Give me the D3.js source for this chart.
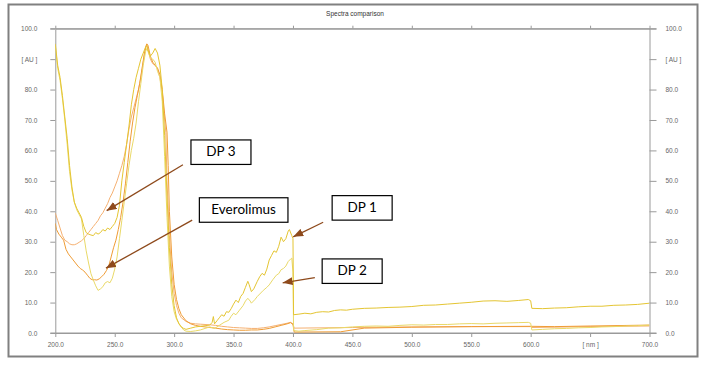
<!DOCTYPE html>
<html>
<head>
<meta charset="utf-8">
<script src="https://cdn.jsdelivr.net/npm/d3@7"></script>
<style>
  body { margin: 0; background: #fff; }
  .tick text { font-family: "Liberation Sans", Arial, sans-serif; font-size: 6.5px; fill: #666; }
  .tick line, .domain { stroke: #9a9a9a; }
</style>
</head>
<body>
<div id="chart"></div>
<script>
// spectra: [wavelength nm, absorbance AU]
var dp1 = [[200,95],[202,88],[204,84],[206,78],[208,71],[210,64],[212,55],[214,48],[216,43],[218,41],[220,39.5],[222,38],[224,35],[226,33],[228,32.5],[230,32.2],[232,32],[234,33],[236,32.5],[238,33],[240,34],[242,33.5],[244,34.5],[246,34],[248,35],[250,36],[252,38],[254,42],[256,50],[258,56],[260,62],[262,68],[264,75],[266,80],[268,84],[270,87],[272,90],[274,92],[276,94],[277,94.5],[278,93],[280,91],[282,92],[284,93.5],[286,92],[288,88],[290,80],[292,65],[294,45],[296,28],[298,16],[300,9],[302,5],[304,3],[306,2],[308,1.5],[310,1.2],[314,1.6],[318,2],[322,2.2],[326,2.4],[330,2.6],[332,3.5],[333,5.4],[334,3],[336,4],[338,5],[340,6],[342,5.5],[344,7],[346,6.8],[348,8],[350,9.5],[352,10.8],[354,10],[356,12],[358,13],[360,15],[362,17],[363,16],[365,13.6],[367,14.5],[370,17],[372,18.5],[374,19.6],[376,19],[378,21],[380,24],[382,25.5],[384,27],[386,26.5],[388,28.5],[390,31.5],[392,30],[394,31],[396,33.5],[397,34],[399,32],[400,31],[400.5,6],[405,6.2],[410,6.5],[415,6.3],[420,6.8],[425,7],[430,6.9],[435,7.4],[440,7.6],[445,7.5],[450,7.8],[460,8.1],[470,8.2],[480,8.4],[490,8.5],[500,8.7],[510,9.1],[520,9.2],[530,9.5],[540,9.8],[550,10.1],[560,10.5],[570,10.6],[580,10.4],[590,10.7],[598,11],[600,10.6],[601,8.1],[610,8],[620,8.2],[630,8.3],[640,8.6],[650,8.8],[660,8.8],[670,9.1],[680,9.2],[690,9.4],[700,9.8]];

var dp2 = [[200,94.5],[202,87],[204,83],[206,77],[208,70],[210,62],[212,53],[214,47],[216,43],[218,40.5],[220,39],[222,37.5],[224,32],[226,27],[228,23],[230,19.5],[232,17.4],[234,15.5],[236,14],[238,14.5],[240,15.2],[242,16.5],[244,16.9],[246,16.5],[248,18],[250,21],[252,25],[254,31],[256,37],[258,43],[260,49],[262,55],[264,60],[266,64],[268,69],[270,76],[272,82],[274,88],[276,92.5],[277,93.5],[278,92.5],[280,90.5],[282,90],[284,89],[286,86],[288,84],[290,76],[292,58],[294,38],[296,22],[298,12],[300,7],[302,4.5],[304,3.2],[306,2],[308,1],[310,0.6],[314,0.5],[318,0.7],[322,1],[326,1.5],[330,2],[334,1.5],[338,2.5],[342,3.5],[346,4.2],[348,5.5],[350,6.5],[352,6],[355,7.5],[358,9],[360,10.5],[362,11.4],[364,10.5],[365,9.8],[368,11],[370,12],[372,12.8],[375,14],[378,15],[380,15.8],[383,17.5],[386,19],[388,19.5],[390,20.8],[392,21.2],[394,22],[396,23.5],[398,24.3],[399,24.6],[400,20],[400.5,0.8],[405,0.6],[410,0.8],[420,1.1],[430,1.6],[440,1.7],[450,2],[460,2.2],[470,2.3],[480,2.2],[490,2.5],[500,2.7],[510,2.6],[520,2.8],[530,2.8],[540,3],[550,3.1],[560,3],[570,3.2],[580,3.3],[590,3.4],[598,3.5],[600,3.2],[601,1],[610,1.2],[620,1.4],[630,1.5],[640,1.7],[650,1.8],[660,2],[670,2.1],[680,2.3],[690,2.4],[700,2.6]];

var dp3 = [[200,39.4],[202,37],[204,34.5],[206,32],[208,30.5],[210,30],[212,29.3],[214,29],[216,29],[218,29.3],[220,29.8],[222,30.3],[224,31],[226,32],[228,33],[230,34],[232,35],[234,36],[236,37],[238,38.5],[240,39.5],[242,41],[244,42.5],[246,44.5],[248,46],[250,48],[252,50],[254,52.5],[256,55],[258,58],[260,62],[262,67],[264,71],[266,74],[268,77],[270,80],[272,84],[274,89],[276,94],[277,95],[278,93],[280,90],[282,88.5],[284,88],[286,87],[288,84],[290,79],[292,70],[293,66],[294,50],[296,32],[298,20],[300,13],[302,9],[304,6.5],[306,5],[310,3.8],[314,3.2],[318,3],[322,2.9],[326,2.8],[330,2.7],[335,2.5],[340,2.2],[345,2],[350,1.8],[355,1.7],[360,1.6],[365,1.5],[370,1.5],[375,1.7],[380,2],[385,2.4],[390,2.8],[395,3.2],[398,3.5],[400,3],[401,1.6],[450,1.8],[500,2],[550,2.1],[600,2.1],[601,1.8],[650,2.1],[700,2.3]];

var everolimus = [[200,36],[201,34],[203,32.5],[205,31.5],[207,30.5],[209,27.5],[211,26],[213,25],[215,24],[217,23],[219,22],[221,21.2],[223,20.7],[225,20],[227,19],[229,18],[231,17.5],[233,17.5],[235,17.4],[237,17.8],[239,18.5],[241,19.3],[243,20.5],[245,22],[247,25],[249,28],[251,30.5],[253,34],[255,38],[257,43],[259,49],[261,56],[263,63],[265,69],[267,74],[269,78],[271,82],[273,87],[275,92],[277,95],[278,94.5],[280,91],[282,89],[284,88],[286,87],[288,85],[290,80],[292,72],[294,66],[295,55],[296,40],[298,25],[300,16],[302,11],[304,8],[306,6],[310,4],[314,3],[318,2.5],[322,2.2],[326,2],[330,1.8],[335,1.6],[340,1.3],[345,1.1],[350,1],[355,0.9],[360,0.9],[365,1],[370,1],[375,1.2],[380,1.5],[385,2],[390,2.5],[395,3],[398,3.4],[400,2.8],[401,0.3],[440,0.4],[460,1.6],[500,1.9],[550,2.1],[600,2.2],[620,2.1],[650,2.3],[700,2.6]];

var seriesNames = ["DP 3", "Everolimus", "DP 2", "DP 1"];
var seriesData = [dp3, everolimus, dp2, dp1];
var seriesColors = ["#f5b071", "#ef9c35", "#e9d968", "#e4c533"];

var yTicks = [0, 10, 20, 30, 40, 50, 60, 70, 80, 90, 100];
var xTicks = [200, 250, 300, 350, 400, 450, 500, 550, 600, 650, 700];

// callouts: box centre and arrow ends given in data units
var noteText = ["DP 3", "Everolimus", "DP 1", "DP 2"];
var noteBox = [[339.4, 59.5], [358.5, 40.5], [458.2, 41.2], [449.8, 20.4]];
var noteFrom = [[307.4, 55.3], [315.2, 37.1], [425.4, 36.4], [418.4, 18.2]];
var noteTo = [[243.2, 40.2], [242.6, 21.3], [400.2, 31.6], [391.3, 16.5]];

var width = 707, height = 365;

var svg = d3.select("#chart").append("svg")
  .attr("width", width)
  .attr("height", height);

// outer frame
svg.append("rect")
  .attr("x", 8.5).attr("y", 4.5)
  .attr("width", 689).attr("height", 352)
  .attr("fill", "none")
  .attr("stroke", "#808080")
  .attr("stroke-width", 2);

svg.append("text")
  .attr("x", 355).attr("y", 15.5)
  .attr("text-anchor", "middle")
  .style("font-family", "Liberation Sans, Arial, sans-serif")
  .style("font-size", "6.5px")
  .attr("fill", "#333")
  .text("Spectra comparison");

var x = d3.scaleLinear().domain([200, 700]).range([55.3, 649.5]);
var y = d3.scaleLinear().domain([0, 100]).range([333, 28.7]);

var fmtY = function(d) { return d === 90 ? "[ AU ]" : d.toFixed(1); };
var fmtX = function(d) { return d === 650 ? "[ nm ]" : d.toFixed(1); };

svg.append("g")
  .attr("transform", "translate(" + x(200) + ",0)")
  .call(d3.axisLeft(y).tickValues(yTicks).tickFormat(fmtY).tickSize(5).tickSizeOuter(0).tickPadding(13));

svg.append("g")
  .attr("transform", "translate(" + x(700) + ",0)")
  .call(d3.axisRight(y).tickValues(yTicks).tickFormat(fmtY).tickSize(7).tickSizeOuter(0).tickPadding(9));

svg.append("g")
  .attr("transform", "translate(0," + y(0) + ")")
  .call(d3.axisBottom(x).tickValues(xTicks).tickFormat(fmtX).tickSize(4).tickSizeOuter(0).tickPadding(5));

svg.append("g")
  .attr("transform", "translate(0," + y(100) + ")")
  .call(d3.axisTop(x).tickValues(xTicks).tickFormat("").tickSize(3).tickSizeOuter(0));

// extend top and bottom lines to the outer ticks
[y(0), y(100)].forEach(function(yy) {
  svg.append("line")
    .attr("x1", x(200) - 5).attr("x2", x(700) + 7)
    .attr("y1", yy).attr("y2", yy)
    .attr("stroke", "#9a9a9a");
});

svg.append("clipPath").attr("id", "plot")
  .append("rect")
  .attr("x", x(200)).attr("y", y(100))
  .attr("width", x(700) - x(200)).attr("height", y(0) - y(100));

var line = d3.line()
  .x(function(d) { return x(d[0]); })
  .y(function(d) { return y(d[1]); });

svg.append("g").attr("clip-path", "url(#plot)")
  .selectAll("path")
  .data(seriesData)
  .enter()
  .append("path")
  .attr("d", line)
  .attr("fill", "none")
  .attr("stroke", function(d, i) { return seriesColors[i]; })
  .attr("stroke-width", 1)
  .attr("stroke-linejoin", "round");

// arrow head
svg.append("defs").append("marker")
  .attr("id", "head")
  .attr("viewBox", "0 0 10 8")
  .attr("refX", 10).attr("refY", 4)
  .attr("markerWidth", 10).attr("markerHeight", 8)
  .attr("markerUnits", "userSpaceOnUse")
  .attr("orient", "auto")
  .append("path")
  .attr("d", "M0,0L10,4L0,8Z")
  .attr("fill", "#8e4a1c");

var notes = svg.append("g");

noteText.forEach(function(t, i) {
  notes.append("line")
    .attr("x1", x(noteFrom[i][0])).attr("y1", y(noteFrom[i][1]))
    .attr("x2", x(noteTo[i][0])).attr("y2", y(noteTo[i][1]))
    .attr("stroke", "#8e4a1c")
    .attr("stroke-width", 1.3)
    .attr("marker-end", "url(#head)");

  var cx = x(noteBox[i][0]), cy = y(noteBox[i][1]);
  var txt = notes.append("text")
    .attr("x", cx).attr("y", cy + 4.5)
    .attr("text-anchor", "middle")
    .style("font-family", "Lato, 'Open Sans', sans-serif")
    .style("font-size", "13.5px")
    .attr("fill", "#000")
    .text(t);
  var w = Math.max(60, txt.node().getComputedTextLength() + 24);
  notes.insert("rect", "text")
    .attr("x", cx - w / 2).attr("y", cy - 12)
    .attr("width", w).attr("height", 24.5)
    .attr("fill", "#fff")
    .attr("stroke", "#000")
    .attr("stroke-width", 1.2);
});
</script>
</body>
</html>
